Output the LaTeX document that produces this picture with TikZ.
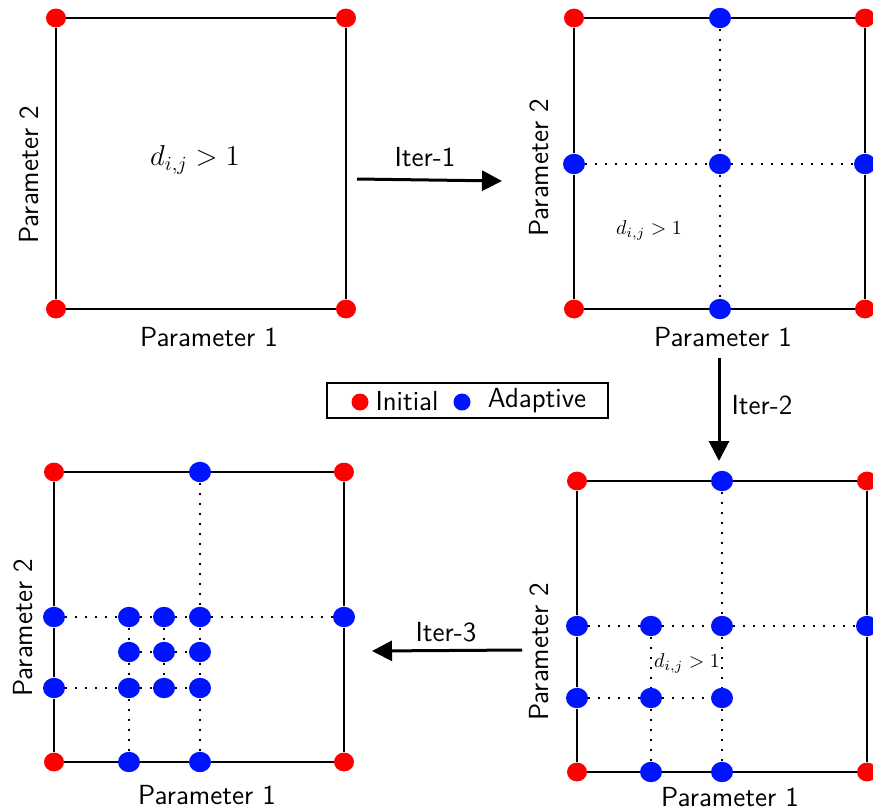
\documentclass[tikz,border=0pt]{standalone}
\usetikzlibrary{shapes.geometric,arrows.meta,backgrounds}
\definecolor{ired}{RGB}{255,0,0}
\definecolor{ablue}{RGB}{0,20,255}
\tikzset{
  red dot/.style={ellipse,fill=ired,inner sep=0pt,minimum width=10pt,minimum height=9.4pt},
  blue dot/.style={ellipse,fill=ablue,inner sep=0pt,minimum width=11pt,minimum height=10.2pt},
  edge line/.style={line width=0.9pt,black},
  grid line/.style={line width=1pt,black,dash pattern=on 1pt off 4pt},
  lbl/.style={font=\sffamily\fontsize{13.8}{16}\selectfont,inner sep=0pt},
  biglbl/.style={font=\fontsize{14}{17}\selectfont,inner sep=0pt},
  smalllbl/.style={font=\fontsize{10}{12}\selectfont,inner sep=0pt},
  iter arrow/.style={line width=1.5pt,-{Triangle[length=10pt,width=10pt]}},
  legend box/.style={draw,line width=0.9pt,minimum width=140.5pt,minimum height=17.5pt,inner sep=0pt}
}
\begin{document}
\begin{tikzpicture}[x=0.5pt,y=-0.5pt]
\useasboundingbox (0,0) rectangle (873,810);

% ---------- Panel 1 ----------
\node[red dot] (p1a) at (56,18) {};
\node[red dot] (p1b) at (346,18) {};
\node[red dot] (p1c) at (56,309) {};
\node[red dot] (p1d) at (346,309) {};
\node[biglbl] (p1m) at (195,160) {$d_{i,j} > 1$};
\node[lbl,rotate=90] (p1y) at (29,175) {Parameter 2};
\node[lbl] (p1x) at (209,337) {Parameter 1};
\begin{scope}[on background layer]
\draw[edge line] (p1a) -- (p1b) (p1b) -- (p1d) (p1d) -- (p1c) (p1c) -- (p1a);
\end{scope}

% ---------- Panel 2 ----------
\node[red dot] (p2a) at (574,18) {};
\node[red dot] (p2b) at (865,18) {};
\node[red dot] (p2c) at (574,309) {};
\node[red dot] (p2d) at (865,309) {};
\node[blue dot] (p2t) at (720,18) {};
\node[blue dot] (p2l) at (574,164) {};
\node[blue dot] (p2m) at (720,164) {};
\node[blue dot] (p2r) at (865,164) {};
\node[blue dot] (p2b2) at (720,309) {};
\node[smalllbl] (p2math) at (649,230) {$d_{i,j} > 1$};
\node[lbl,rotate=90] (p2y) at (539,168) {Parameter 2};
\node[lbl] (p2x) at (723,337) {Parameter 1};
\begin{scope}[on background layer]
\draw[edge line] (p2a) -- (p2t) -- (p2b) -- (p2r) -- (p2d) -- (p2b2) -- (p2c) -- (p2l) -- (p2a);
\draw[grid line] (p2t) -- (p2m) (p2m) -- (p2b2) (p2l) -- (p2m) (p2m) -- (p2r);
\end{scope}

% ---------- Panel 4 (bottom right) ----------
\node[red dot] (p4a) at (577,481) {};
\node[red dot] (p4b) at (867,481) {};
\node[red dot] (p4c) at (577,772) {};
\node[red dot] (p4d) at (867,772) {};
\node[blue dot] (p4t) at (722,481) {};
\node[blue dot] (p4l1) at (577,626) {};
\node[blue dot] (p4q1) at (651,626) {};
\node[blue dot] (p4m1) at (722,626) {};
\node[blue dot] (p4r1) at (867,626) {};
\node[blue dot] (p4l2) at (577,698) {};
\node[blue dot] (p4q2) at (651,698) {};
\node[blue dot] (p4m2) at (722,698) {};
\node[blue dot] (p4qb) at (651,772) {};
\node[blue dot] (p4mb) at (722,772) {};
\node[smalllbl] (p4math) at (687,663) {$d_{i,j} > 1$};
\node[lbl,rotate=90] (p4y) at (539,652) {Parameter 2};
\node[lbl] (p4x) at (730,797) {Parameter 1};
\begin{scope}[on background layer]
\draw[edge line] (p4a) -- (p4t) -- (p4b) -- (p4r1) -- (p4d) -- (p4mb) -- (p4qb) -- (p4c) -- (p4l2) -- (p4l1) -- (p4a);
\draw[grid line] (p4t) -- (p4m1) (p4m1) -- (p4m2) (p4m2) -- (p4mb);
\draw[grid line] (p4l1) -- (p4q1) (p4q1) -- (p4m1) (p4m1) -- (p4r1);
\draw[grid line] (p4l2) -- (p4q2) (p4q2) -- (p4m2);
\draw[grid line] (p4q1) -- (p4q2) (p4q2) -- (p4qb);
\end{scope}

% ---------- Panel 3 (bottom left) ----------
\node[red dot] (p3a) at (54,472) {};
\node[red dot] (p3b) at (344,472) {};
\node[red dot] (p3c) at (54,762) {};
\node[red dot] (p3d) at (344,762) {};
\node[blue dot] (p3t) at (200,472) {};
\node[blue dot] (p3l1) at (54,617) {};
\node[blue dot] (p3q1) at (129,617) {};
\node[blue dot] (p3e1) at (164,617) {};
\node[blue dot] (p3m1) at (200,617) {};
\node[blue dot] (p3r1) at (344,617) {};
\node[blue dot] (p3q2) at (129,652) {};
\node[blue dot] (p3e2) at (164,652) {};
\node[blue dot] (p3m2) at (200,652) {};
\node[blue dot] (p3l3) at (54,688) {};
\node[blue dot] (p3q3) at (129,688) {};
\node[blue dot] (p3e3) at (164,688) {};
\node[blue dot] (p3m3) at (200,688) {};
\node[blue dot] (p3qb) at (129,762) {};
\node[blue dot] (p3mb) at (200,762) {};
\node[lbl,rotate=90] (p3y) at (23,628) {Parameter 2};
\node[lbl] (p3x) at (207,795) {Parameter 1};
\begin{scope}[on background layer]
\draw[edge line] (p3a) -- (p3t) -- (p3b) -- (p3r1) -- (p3d) -- (p3mb) -- (p3qb) -- (p3c) -- (p3l3) -- (p3l1) -- (p3a);
\draw[grid line] (p3t) -- (p3m1) (p3m1) -- (p3m2) (p3m2) -- (p3m3) (p3m3) -- (p3mb);
\draw[grid line] (p3q1) -- (p3q2) (p3q2) -- (p3q3) (p3q3) -- (p3qb);
\draw[grid line] (p3e1) -- (p3e2) (p3e2) -- (p3e3);
\draw[grid line] (p3l1) -- (p3q1) (p3q1) -- (p3e1) (p3e1) -- (p3m1) (p3m1) -- (p3r1);
\draw[grid line] (p3q2) -- (p3e2) (p3e2) -- (p3m2);
\draw[grid line] (p3l3) -- (p3q3) (p3q3) -- (p3e3) (p3e3) -- (p3m3);
\end{scope}

% ---------- Arrows ----------
\coordinate (a1s) at (357,179);
\coordinate (a1e) at (502,181);
\draw[iter arrow] (a1s) -- (a1e);
\node[lbl] (it1) at (425,157) {Iter-1};

\coordinate (a2s) at (719,358);
\coordinate (a2e) at (719,461);
\draw[iter arrow] (a2s) -- (a2e);
\node[lbl] (it2) at (762,405) {Iter-2};

\coordinate (a3s) at (522,650);
\coordinate (a3e) at (372,651);
\draw[iter arrow] (a3s) -- (a3e);
\node[lbl] (it3) at (446,632) {Iter-3};

% ---------- Legend ----------
\node[legend box] (leg) at (467.5,400.5) {};
\node[red dot,minimum width=8.5pt,minimum height=8.5pt] (legr) at (360,402) {};
\node[lbl] (legrt) at (407,401) {Initial};
\node[blue dot,minimum width=8.5pt,minimum height=8.5pt] (legb) at (462,402) {};
\node[lbl] (legbt) at (537,401) {Adaptive};
\end{tikzpicture}
\end{document}
